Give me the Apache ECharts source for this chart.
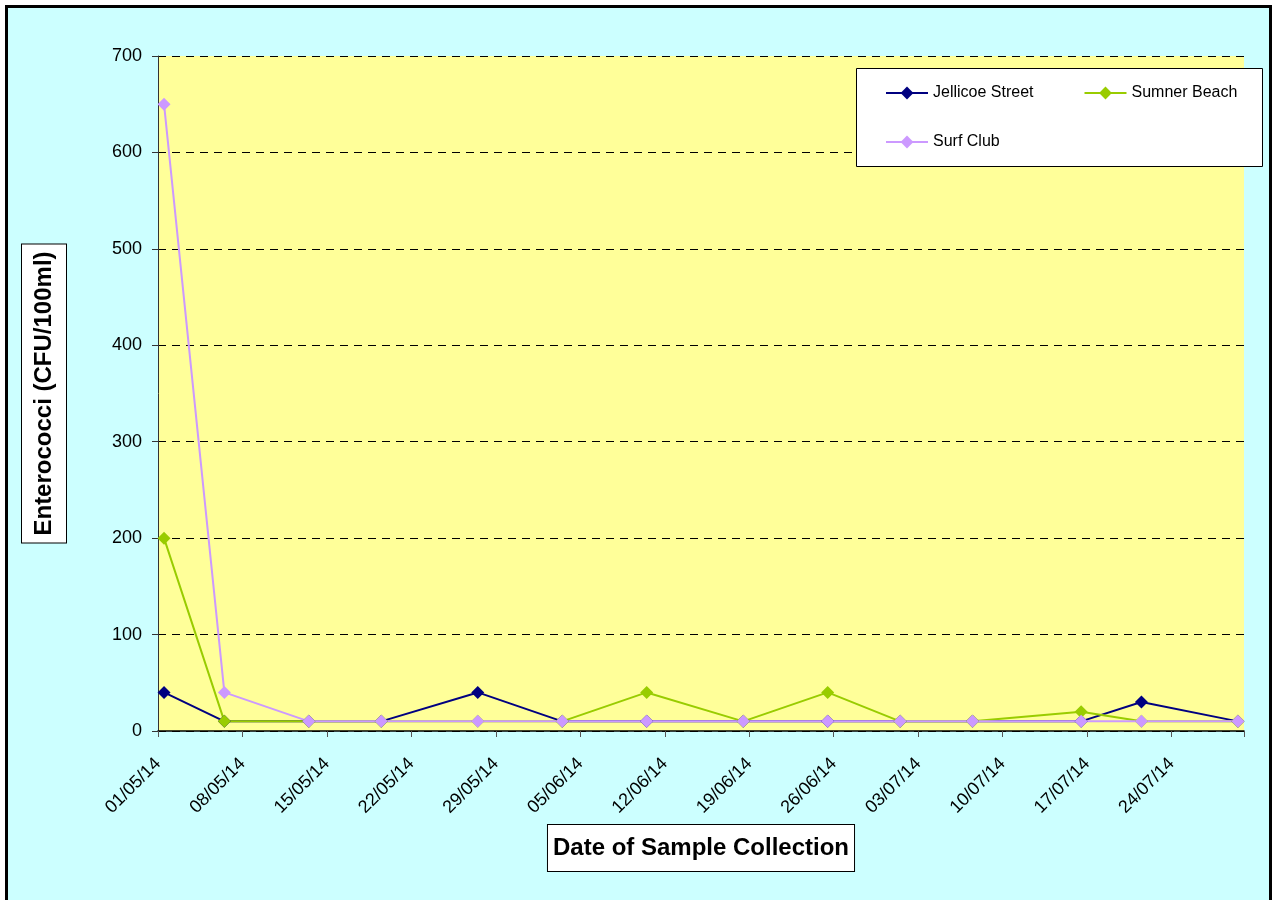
<!DOCTYPE html>
<html>
<head>
<meta charset="utf-8">
<script src="https://cdn.jsdelivr.net/npm/echarts@6/dist/echarts.min.js"></script>
<style>
html,body{margin:0;padding:0;background:#ffffff;}
#chart{width:1272px;height:900px;}
</style>
</head>
<body>
<div id="chart"></div>
<script>
// ---- data ----
var axisStart = '2014-05-01';
var axisDays = 90;
var tickStep = 7;
var tickLabels = ['01/05/14','08/05/14','15/05/14','22/05/14','29/05/14','05/06/14','12/06/14','19/06/14','26/06/14','03/07/14','10/07/14','17/07/14','24/07/14'];
var sampleDates = ['2014-05-01','2014-05-06','2014-05-13','2014-05-19','2014-05-27','2014-06-03','2014-06-10','2014-06-18','2014-06-25','2014-07-01','2014-07-07','2014-07-16','2014-07-21','2014-07-29'];
var jellicoeStreet = [40,10,10,10,40,10,10,10,10,10,10,10,30,10];
var sumnerBeach    = [200,10,10,10,10,10,40,10,40,10,10,20,10,10];
var surfClub       = [650,40,10,10,10,10,10,10,10,10,10,10,10,10];
var seriesNames = ['Jellicoe Street','Sumner Beach','Surf Club'];
var yTitle = 'Enterococci (CFU/100ml)';
var xTitle = 'Date of Sample Collection';

// ---- helpers ----
function dayIndex(s){
  var p = s.split('-'), q = axisStart.split('-');
  return (Date.UTC(+p[0],+p[1]-1,+p[2]) - Date.UTC(+q[0],+q[1]-1,+q[2]))/86400000;
}
// date axis: each day occupies one unit, points sit in the middle of their day
function pairs(vals){
  return sampleDates.map(function(d,i){ return [dayIndex(d)+0.5, vals[i]]; });
}
var colors = ['#000080','#99CC00','#CC99FF'];
var font = '"Liberation Sans", Arial, sans-serif';

function mkSeries(name, vals, color){
  return {
    name: name, type: 'line', data: pairs(vals),
    symbol: 'diamond', symbolSize: 13,
    lineStyle: {color: color, width: 2},
    itemStyle: {color: color},
    emphasis: {disabled: true},
    animation: false
  };
}

var chart = echarts.init(document.getElementById('chart'), null, {renderer:'canvas'});
chart.setOption({
  animation: false,
  color: colors,
  textStyle: {fontFamily: font},
  graphic: [
    {type:'rect', z:-100, silent:true,
     shape:{x:6.5,y:6.5,width:1264,height:900},
     style:{fill:'#CCFFFF', stroke:'#000000', lineWidth:3}},
    {type:'rect', z:50, silent:true,
     shape:{x:856.5,y:68.5,width:406,height:98},
     style:{fill:'#FFFFFF', stroke:'#000000', lineWidth:1}}
  ],
  grid: {left:158, right:28, top:56, bottom:169, show:true, backgroundColor:'#FFFF99', borderWidth:0},
  legend: [
    {data:[seriesNames[0], seriesNames[1]], left:880, top:80, z:60, itemWidth:42, itemHeight:16, itemGap:50,
     textStyle:{fontSize:16, color:'#000', fontFamily:font}, selectedMode:false},
    {data:[seriesNames[2]], left:880, top:129, z:60, itemWidth:42, itemHeight:16,
     textStyle:{fontSize:16, color:'#000', fontFamily:font}, selectedMode:false}
  ],
  xAxis: {
    type:'value', min:0, max:axisDays, interval:tickStep,
    name: xTitle, nameLocation:'middle', nameGap:92,
    nameTextStyle:{fontSize:24, fontWeight:'bold', color:'#000', fontFamily:font,
      backgroundColor:'#FFFFFF', borderColor:'#000', borderWidth:1, padding:[11,5,11,5]},
    axisLine:{show:true, onZero:false, lineStyle:{color:'#000', width:1.5}},
    axisTick:{show:true, inside:false, length:6, lineStyle:{color:'#555'}},
    splitLine:{show:false},
    axisLabel:{rotate:45, fontSize:18, color:'#000', margin:30, fontFamily:font,
      formatter:function(v){ var i = Math.round(v/tickStep); return (Math.abs(v - i*tickStep) < 1e-6 && tickLabels[i]) ? tickLabels[i] : ''; }}
  },
  yAxis: {
    type:'value', min:0, max:700, interval:100,
    name: yTitle, nameLocation:'middle', nameGap:92, nameRotate:90,
    nameTextStyle:{fontSize:24, fontWeight:'bold', color:'#000', fontFamily:font,
      backgroundColor:'#FFFFFF', borderColor:'#000', borderWidth:1, padding:[10,7,10,7]},
    axisLine:{show:true, lineStyle:{color:'#333', width:1}},
    axisTick:{show:true, inside:false, length:6, lineStyle:{color:'#333'}},
    splitLine:{show:true, lineStyle:{color:'#000', type:[8,6], width:1}},
    axisLabel:{fontSize:18, color:'#000', margin:16, fontFamily:font}
  },
  series: [
    mkSeries(seriesNames[0], jellicoeStreet, colors[0]),
    mkSeries(seriesNames[1], sumnerBeach, colors[1]),
    mkSeries(seriesNames[2], surfClub, colors[2])
  ]
});
</script>
</body>
</html>
